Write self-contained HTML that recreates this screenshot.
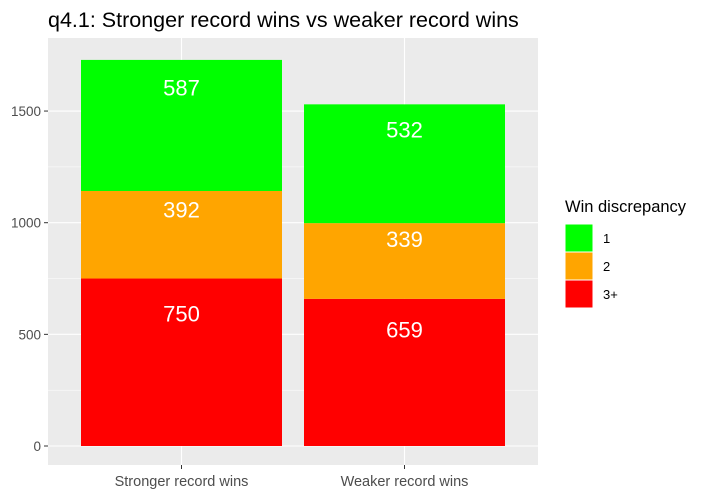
<!DOCTYPE html>
<html><head><meta charset="utf-8"><style>
body{margin:0;background:#fff;font-family:"Liberation Sans",Arial,sans-serif}
</style></head><body>
<svg id="c" width="715" height="498" xmlns="http://www.w3.org/2000/svg">
<text x="48" y="27" font-size="21.5" fill="#000">q4.1: Stronger record wins vs weaker record wins</text>
<rect x="48" y="38" width="490" height="427" fill="#EBEBEB"/>
<g id="grid"></g><g id="bars"></g><g id="axes"></g>
<g>
<text x="565" y="212" font-size="16.5" fill="#000">Win discrepancy</text>
<g id="legend"></g>
</g>
</svg>
<script>
const categories=["Stronger record wins","Weaker record wins"];
const groups=["3+","2","1"];
const values3=[750,659];
const values2=[392,339];
const values1=[587,532];
const yTicks=[0,500,1000,1500];
const colors={"1":"#00FF00","2":"#FFA500","3+":"#FF0000"};
const NS="http://www.w3.org/2000/svg";
const y=v=>446-v*0.2233;
const x=i=>181.5+i*223;
const bw=201;
function mk(t,a,p){const e=document.createElementNS(NS,t);for(const k in a)e.setAttribute(k,a[k]);p.appendChild(e);return e;}
const grid=document.getElementById('grid'),bars=document.getElementById('bars'),axes=document.getElementById('axes');
for(let i=0;i<yTicks.length;i++){
 const v=yTicks[i];
 const l=mk('line',{x1:48,x2:538,y1:y(v),y2:y(v),stroke:'#fff','stroke-width':1.1},grid);
 
 if(i<yTicks.length-1){const m=mk('line',{x1:48,x2:538,y1:y(v+250),y2:y(v+250),stroke:'#fff','stroke-width':0.5},grid);
 }
 const tk=mk('line',{x1:44,x2:48,y1:y(v),y2:y(v),stroke:'#333'},axes);
 
 const t=mk('text',{x:41,y:y(v)+5,'text-anchor':'end','font-size':13.5,fill:'#4D4D4D'},axes);t.textContent=v;
 
}
categories.forEach((c,i)=>{
 const l=mk('line',{x1:x(i),x2:x(i),y1:38,y2:465,stroke:'#fff','stroke-width':1.1},grid);
 
 const tk=mk('line',{x1:x(i),x2:x(i),y1:465,y2:469,stroke:'#333'},axes);
 
 const t=mk('text',{x:x(i),y:486,'text-anchor':'middle','font-size':14.5,fill:'#4D4D4D'},axes);t.textContent=c;
 
 const vals=[values3[i],values2[i],values1[i]];
 let base=0;
 vals.forEach((v,j)=>{
  const top=y(base+v),h=y(base)-top;
  const r=mk('rect',{x:x(i)-bw/2,y:top,width:bw,height:h,fill:colors[groups[j]]},bars);
  
  const t=mk('text',{x:x(i),y:top+0.21*h+8,'text-anchor':'middle','font-size':22,fill:'#fff'},bars);t.textContent=v;
  
  base+=v;
 });
});
const leg=document.getElementById('legend');
["1","2","3+"].forEach((g,i)=>{
 const r=mk('rect',{x:565,y:224+i*28,width:28,height:28,fill:colors[g],stroke:'#fff'},leg);
 
 const t=mk('text',{x:603,y:243+i*28,'font-size':13,fill:'#000'},leg);t.textContent=g;
 
});
</script>
</body></html>
